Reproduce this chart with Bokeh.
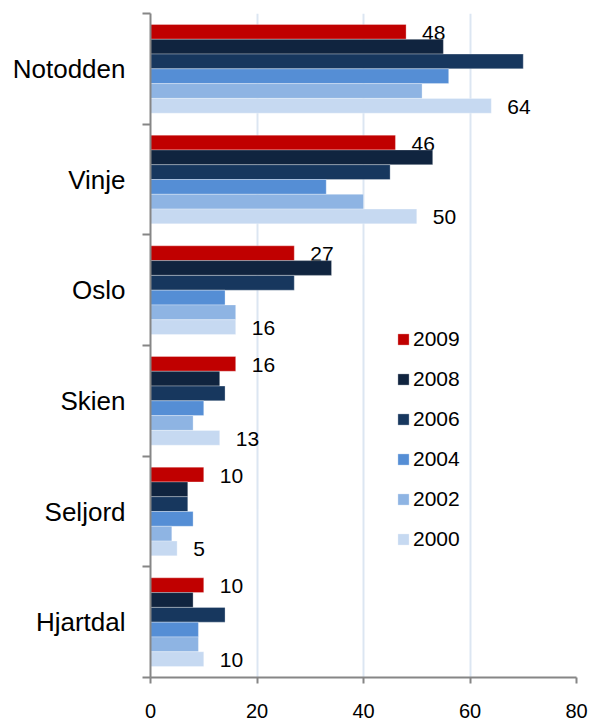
from bokeh.plotting import figure
from bokeh.models import (ColumnDataSource, Range1d, FixedTicker, Legend, LegendItem)
from bokeh.core.properties import value
from bokeh.embed import file_html
from bokeh.resources import INLINE

# ---- data ----
cities = ["Notodden", "Vinje", "Oslo", "Skien", "Seljord", "Hjartdal"]
years = ["2009", "2008", "2006", "2004", "2002", "2000"]
v2009 = [48, 46, 27, 16, 10, 10]
v2008 = [55, 53, 34, 13, 7, 8]
v2006 = [70, 45, 27, 14, 7, 14]
v2004 = [56, 33, 14, 10, 8, 9]
v2002 = [51, 40, 16, 8, 4, 9]
v2000 = [64, 50, 16, 13, 5, 10]
series = [v2009, v2008, v2006, v2004, v2002, v2000]
colors = ["#C00000", "#10243F", "#17375E", "#558ED5", "#8EB4E3", "#C6D9F1"]
labelled = ["2009", "2000"]
x_ticks = [0, 20, 40, 60, 80]

FONT = "Liberation Sans"
n = len(cities)
bar_h = 0.1336
centers = [n - 0.5 - g for g in range(n)]

p = figure(width=592, height=722, output_backend="svg", toolbar_location=None,
           x_range=Range1d(0, 80), y_range=Range1d(0, n),
           min_border_left=150, min_border_right=16, min_border_top=13,
           min_border_bottom=45, outline_line_color=None)
p.background_fill_color = "white"
p.border_fill_color = "white"

items = []
for i, (yr, vals, col) in enumerate(zip(years, series, colors)):
    ys = [c + (2.5 - i) * bar_h for c in centers]
    src = ColumnDataSource(dict(y=ys, right=vals, lab=[str(v) for v in vals]))
    r = p.hbar(y="y", left=0, right="right", height=bar_h, source=src,
               fill_color=col, line_color="white", line_alpha=0.3, line_width=1)
    items.append(LegendItem(label=yr, renderers=[r]))
    if yr in labelled:
        p.text(x="right", y="y", text="lab", source=src, x_offset=16, y_offset=1,
               text_font=value(FONT), text_font_size="21px", text_color="black",
               text_baseline="middle", text_align="left")

legend = Legend(items=items, location=(246, 126), orientation="vertical",
                glyph_width=14, glyph_height=14, label_height=20, spacing=16,
                padding=0, margin=0, label_standoff=3,
                label_text_font=FONT, label_text_font_size="21px",
                label_text_color="black", border_line_color=None,
                background_fill_alpha=0)
p.add_layout(legend, "center")

# x axis
p.xaxis.ticker = FixedTicker(ticks=x_ticks)
p.xaxis.axis_line_color = "#868686"
p.xaxis.axis_line_width = 2
p.xaxis.major_tick_line_color = "#868686"
p.xaxis.major_tick_line_width = 2
p.xaxis.major_tick_out = 6
p.xaxis.major_tick_in = 0
p.xaxis.minor_tick_line_color = None
p.xaxis.major_label_standoff = 20
p.xaxis.major_label_text_font = FONT
p.xaxis.major_label_text_font_size = "20px"
p.xaxis.major_label_text_color = "black"

# y axis: labels at group centres, ticks at group boundaries
p.yaxis.ticker = FixedTicker(ticks=centers, minor_ticks=list(range(n + 1)))
p.yaxis.major_label_overrides = {c: name for c, name in zip(centers, cities)}
p.yaxis.axis_line_color = "#868686"
p.yaxis.axis_line_width = 2
p.yaxis.major_tick_line_color = None
p.yaxis.major_tick_out = 0
p.yaxis.major_tick_in = 0
p.yaxis.minor_tick_line_color = "#868686"
p.yaxis.minor_tick_line_width = 2
p.yaxis.minor_tick_out = 8
p.yaxis.minor_tick_in = 0
p.yaxis.major_label_standoff = 17
p.yaxis.major_label_text_font = FONT
p.yaxis.major_label_text_font_size = "26px"
p.yaxis.major_label_text_color = "black"

p.xgrid.ticker = FixedTicker(ticks=x_ticks[1:])
p.xgrid.grid_line_color = "#DCE6F2"
p.xgrid.grid_line_width = 2
p.ygrid.grid_line_color = None

open("out.html", "w").write(file_html(p, INLINE))
